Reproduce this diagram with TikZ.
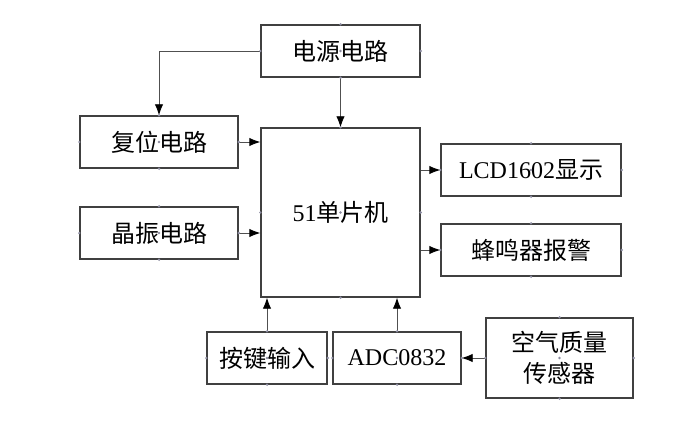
\documentclass[tikz,border=0pt]{standalone}
\usepackage{fontspec}
\setmainfont{Liberation Serif}
\newfontfamily\cjk{Noto Sans CJK SC}
\usetikzlibrary{arrows.meta,calc}
\definecolor{boxc}{HTML}{404040}
\definecolor{linec}{HTML}{505050}
\definecolor{dotc}{HTML}{8C8CA0}
\tikzset{
  blk/.style={draw=boxc, line width=1.4pt, minimum width=#1, inner sep=0pt, fill=white,
     font=\fontsize{24}{31}\selectfont\cjk, align=center},
  conn/.style={draw=linec, line width=0.9pt, -{Latex[length=11pt,width=8.5pt,color=black]}},
}
\begin{document}
\begin{tikzpicture}[x=1pt,y=-1pt]
\useasboundingbox[fill=white] (0,0) rectangle (692,422);
\node[blk=159pt, minimum height=52pt] (pwr) at (340.5,51) {电源电路};
\node[blk=158pt, minimum height=52pt] (rst) at (159,142) {复位电路};
\node[blk=158pt, minimum height=52pt] (osc) at (159,233) {晶振电路};
\node[blk=159pt, minimum height=169pt] (mcu) at (340.5,212.5) {{\rmfamily 51}单片机};
\node[blk=180pt, minimum height=52pt] (lcd) at (531,170) {{\rmfamily LCD1602}显示};
\node[blk=180pt, minimum height=52pt] (buz) at (531,250) {蜂鸣器报警};
\node[blk=120pt, minimum height=52pt] (key) at (267,358) {按键输入};
\node[blk=128pt, minimum height=52pt] (adc) at (397,358) {\rmfamily ADC0832};
\node[blk=147pt, minimum height=80pt] (sen) at (559.5,358) {空气质量\\传感器};

\draw[conn] (pwr.west) -| (rst.north);
\draw[conn] (pwr.south) -- (mcu.north);
\draw[conn] (rst.east) -- (rst.east -| mcu.west);
\draw[conn] (osc.east) -- (osc.east -| mcu.west);
\draw[conn] (lcd.west -| mcu.east) -- (lcd.west);
\draw[conn] (buz.west -| mcu.east) -- (buz.west);
\draw[conn] (key.north) -- (key.north |- mcu.south);
\draw[conn] (adc.north) -- (adc.north |- mcu.south);
\draw[conn] (sen.west) -- (adc.east);

\foreach \n in {pwr,rst,osc,mcu,lcd,buz,key,adc,sen}{
  \foreach \a in {north,south,east,west,center}{
    \fill[dotc] (\n.\a) circle (1.3);
  }
}
\end{tikzpicture}
\end{document}
